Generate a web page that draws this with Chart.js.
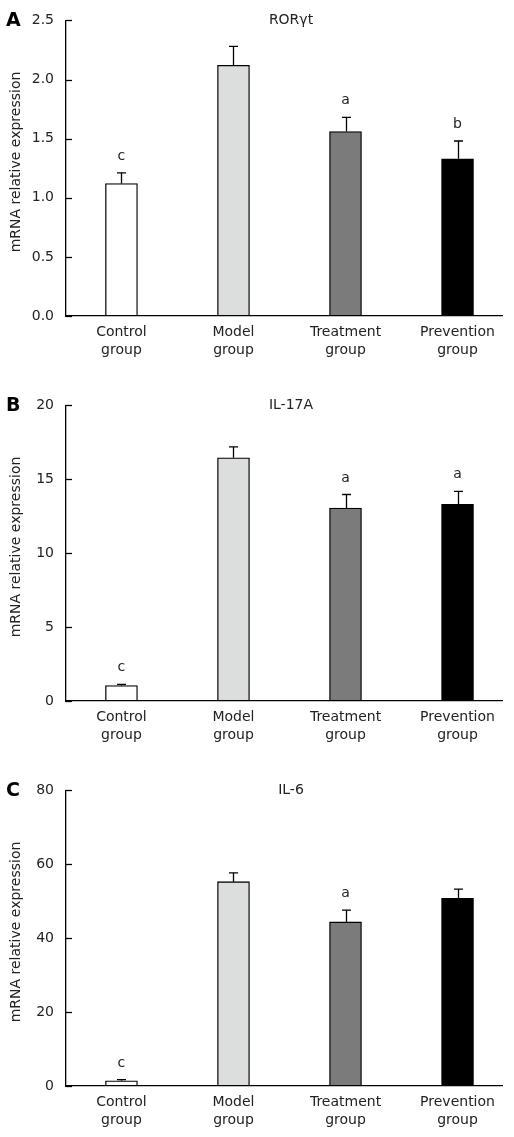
<!DOCTYPE html>
<html>
<head>
<meta charset="utf-8">
<script src="https://cdn.jsdelivr.net/npm/chart.js@4"></script>
<style>
  html, body { margin: 0; padding: 0; background: #fff; overflow: hidden; }
  canvas { display: block; }
</style>
</head>
<body>
<canvas id="chartA" width="514" height="385"></canvas>
<canvas id="chartB" width="514" height="385"></canvas>
<canvas id="chartC" width="514" height="385"></canvas>
<script>
// группы по оси X
const groups = [['Control', 'group'], ['Model', 'group'], ['Treatment', 'group'], ['Prevention', 'group']];
const barColors = ['#ffffff', '#dcdedd', '#7b7b7b', '#000000'];

// RORγt
const rorgtMean = [1.12, 2.12, 1.56, 1.33];
const rorgtErr = [0.09, 0.16, 0.12, 0.15];
const rorgtSig = ['c', '', 'a', 'b'];
const rorgtTicks = [0, 0.5, 1.0, 1.5, 2.0, 2.5];

// IL-17A
const il17aMean = [1.05, 16.45, 13.05, 13.3];
const il17aErr = [0.08, 0.75, 0.92, 0.88];
const il17aSig = ['c', '', 'a', 'a'];
const il17aTicks = [0, 5, 10, 15, 20];

// IL-6
const il6Mean = [1.4, 55.3, 44.4, 50.8];
const il6Err = [0.3, 2.4, 3.2, 2.5];
const il6Sig = ['c', '', 'a', ''];
const il6Ticks = [0, 20, 40, 60, 80];

const FONT = 'DejaVu Sans';

// планки погрешностей, буквы, заголовки, засечки
const extras = {
    id: 'extras',
    afterDatasetsDraw(chart, args, opts) {
        const ctx = chart.ctx;
        const y = chart.scales.y;
        const area = chart.chartArea;
        const bars = chart.getDatasetMeta(0).data;
        ctx.save();
        ctx.strokeStyle = '#000';
        ctx.lineWidth = 1.3;
        // засечки внутрь
        opts.ticks.forEach(v => {
            const py = Math.round(y.getPixelForValue(v)) + 0.5;
            ctx.beginPath();
            ctx.moveTo(area.left, py);
            ctx.lineTo(area.left + 6, py);
            ctx.stroke();
        });
        ctx.fillStyle = '#222';
        ctx.font = '14px "' + FONT + '"';
        ctx.textAlign = 'center';
        bars.forEach((bar, i) => {
            const top = y.getPixelForValue(opts.mean[i] + opts.err[i]);
            const cx = Math.round(bar.x) + 0.5;
            ctx.beginPath();
            ctx.moveTo(cx, bar.y);
            ctx.lineTo(cx, top);
            ctx.moveTo(cx - 4.5, top);
            ctx.lineTo(cx + 4.5, top);
            ctx.stroke();
            if (opts.sig[i]) {
                ctx.textBaseline = 'alphabetic';
                ctx.fillText(opts.sig[i], bar.x, top - 13);
            }
        });
        // заголовок
        ctx.textBaseline = 'middle';
        ctx.fillText(opts.title, 291, area.top);
        // подпись оси Y
        ctx.save();
        ctx.translate(16, 162);
        ctx.rotate(-Math.PI / 2);
        ctx.fillText('mRNA relative expression', 0, 0);
        ctx.restore();
        // буква панели
        ctx.fillStyle = '#000';
        ctx.font = 'bold 19px "' + FONT + '"';
        ctx.textAlign = 'left';
        ctx.fillText(opts.letter, 6, 21);
        ctx.restore();
    }
};

function makeChart(id, letter, title, mean, err, sig, ticks, digits) {
    const el = document.getElementById(id);
    if (!el) return;
    new Chart(el.getContext('2d'), {
        type: 'bar',
        data: {
            datasets: [{
                data: mean.map((v, i) => ({ x: i, y: v })),
                backgroundColor: barColors,
                borderColor: '#000',
                borderWidth: 1.3,
                borderSkipped: false,
                barThickness: 32
            }]
        },
        options: {
            responsive: false,
            animation: false,
            devicePixelRatio: 1,
            layout: { padding: { top: 16, right: 12, left: 0, bottom: 0 } },
            plugins: {
                legend: { display: false },
                tooltip: { enabled: false },
                extras: { letter, title, mean, err, sig, ticks }
            },
            scales: {
                x: {
                    type: 'linear',
                    offset: false,
                    min: -0.495,
                    max: 3.397,
                    afterBuildTicks: s => { s.ticks = groups.map((g, i) => ({ value: i })); },
                    afterFit: s => { s.height = 69; },
                    grid: { display: false, drawTicks: false, offset: false },
                    border: { display: true, color: '#000', width: 1.3 },
                    ticks: {
                        autoSkip: false,
                        maxRotation: 0,
                        padding: 8,
                        color: '#222',
                        font: { family: FONT, size: 14, lineHeight: 1.25 },
                        callback: v => groups[v]
                    }
                },
                y: {
                    min: ticks[0],
                    max: ticks[ticks.length - 1],
                    afterBuildTicks: s => { s.ticks = ticks.map(v => ({ value: v })); },
                    afterFit: s => { s.width = 66; },
                    grid: { display: false, drawTicks: false },
                    border: { display: true, color: '#000', width: 1.3 },
                    ticks: {
                        padding: 12,
                        color: '#222',
                        font: { family: FONT, size: 14 },
                        callback: v => v.toFixed(digits)
                    }
                }
            }
        },
        plugins: [extras]
    });
}

document.addEventListener('DOMContentLoaded', () => {
    makeChart('chartA', 'A', 'RORγt', rorgtMean, rorgtErr, rorgtSig, rorgtTicks, 1);
    makeChart('chartB', 'B', 'IL-17A', il17aMean, il17aErr, il17aSig, il17aTicks, 0);
    makeChart('chartC', 'C', 'IL-6', il6Mean, il6Err, il6Sig, il6Ticks, 0);
});
</script>
</body>
</html>
